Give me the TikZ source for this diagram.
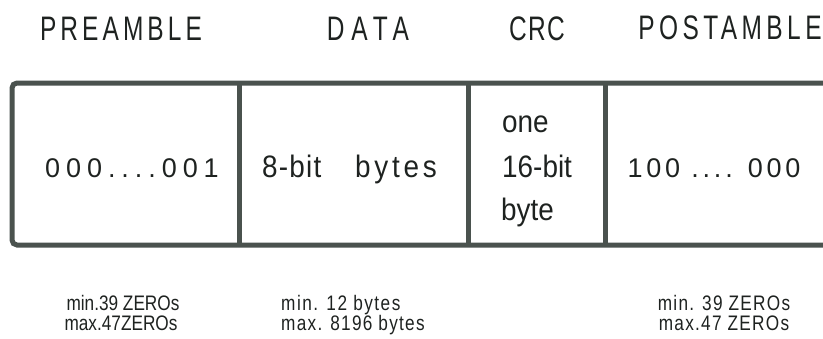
\documentclass[tikz,border=0pt]{standalone}
\usepackage{fontspec}
\setmainfont{Liberation Sans}
\newfontfamily\hdrfont[FakeStretch=0.72]{Liberation Sans}
\newfontfamily\cellfont[FakeStretch=0.9]{Liberation Sans}
\newfontfamily\digitfont{Liberation Sans}
\newfontfamily\notefont[FakeStretch=0.82]{Liberation Sans}
\definecolor{frameclr}{RGB}{74,82,78}
\definecolor{inkclr}{RGB}{30,34,32}
\tikzset{
  hdr/.style={anchor=base, inner sep=0pt, text=inkclr, font=\hdrfont\fontsize{34}{34}\selectfont},
  cell/.style={anchor=base, inner sep=0pt, text=inkclr, font=\cellfont\fontsize{31}{31}\selectfont},
  digits/.style={anchor=base, inner sep=0pt, text=inkclr, font=\digitfont\fontsize{27}{27}\selectfont},
  note/.style={anchor=base, inner sep=0pt, text=inkclr, font=\notefont\fontsize{21}{21}\selectfont},
  frameline/.style={draw=frameclr, line width=5pt}
}
\begin{document}
\begin{tikzpicture}[x=1pt, y=-1pt]
  \useasboundingbox (0,0) rectangle (823,338);

  % field headings
  \node[hdr] (hpre)  at (121,40) {\addfontfeature{LetterSpace=12}PREAMBLE};
  \node[hdr] (hdata) at (368,40) {\addfontfeature{LetterSpace=20}DATA};
  \node[hdr] (hcrc)  at (537,40) {\addfontfeature{LetterSpace=4}CRC};
  \node[hdr] (hpost) at (730,39) {\addfontfeature{LetterSpace=13}POSTAMBLE};

  % frame corners and field boundaries
  \coordinate (tl) at (12,83);
  \coordinate (bl) at (12,245);
  \coordinate (tr) at (830,83);
  \coordinate (br) at (830,245);
  \coordinate (d1t) at (239,83);  \coordinate (d1b) at (239,245);
  \coordinate (d2t) at (468,83);  \coordinate (d2b) at (468,245);
  \coordinate (d3t) at (605,83);  \coordinate (d3b) at (605,245);

  \draw[frameline, rounded corners=5pt] (tr) -- (tl) -- (bl) -- (br);
  \draw[frameline] (d1t) -- (d1b);
  \draw[frameline] (d2t) -- (d2b);
  \draw[frameline] (d3t) -- (d3b);

  % field contents
  \node[digits] (pre)  at (132,177) {\addfontfeature{LetterSpace=22}000....001};
  \node[cell, anchor=base west] (data1) at (262,177) {\addfontfeature{LetterSpace=4}8-bit};
  \node[cell, anchor=base east] (data2) at (437,177) {\addfontfeature{LetterSpace=12}bytes};
  \node[cell, anchor=base west] (crc1) at (502,132) {one};
  \node[cell, anchor=base west] (crc2) at (502,177) {16-bit};
  \node[cell, anchor=base west] (crc3) at (501,220) {byte};
  \node[digits] (post) at (714,177) {\addfontfeature{LetterSpace=14}100 .... 000};

  % length limits
  \node[note] (npre1)  at (123,310) {min.39 ZEROs};
  \node[note] (npre2)  at (121,330) {max.47ZEROs};
  \node[note, anchor=base west] (ndata1) at (281,310) {\addfontfeature{LetterSpace=7}min. 12 bytes};
  \node[note, anchor=base west] (ndata2) at (281,330) {\addfontfeature{LetterSpace=6}max. 8196 bytes};
  \node[note] (npost1) at (724,310) {\addfontfeature{LetterSpace=6}min. 39 ZEROs};
  \node[note] (npost2) at (724,330) {\addfontfeature{LetterSpace=6}max.47 ZEROs};
\end{tikzpicture}
\end{document}
